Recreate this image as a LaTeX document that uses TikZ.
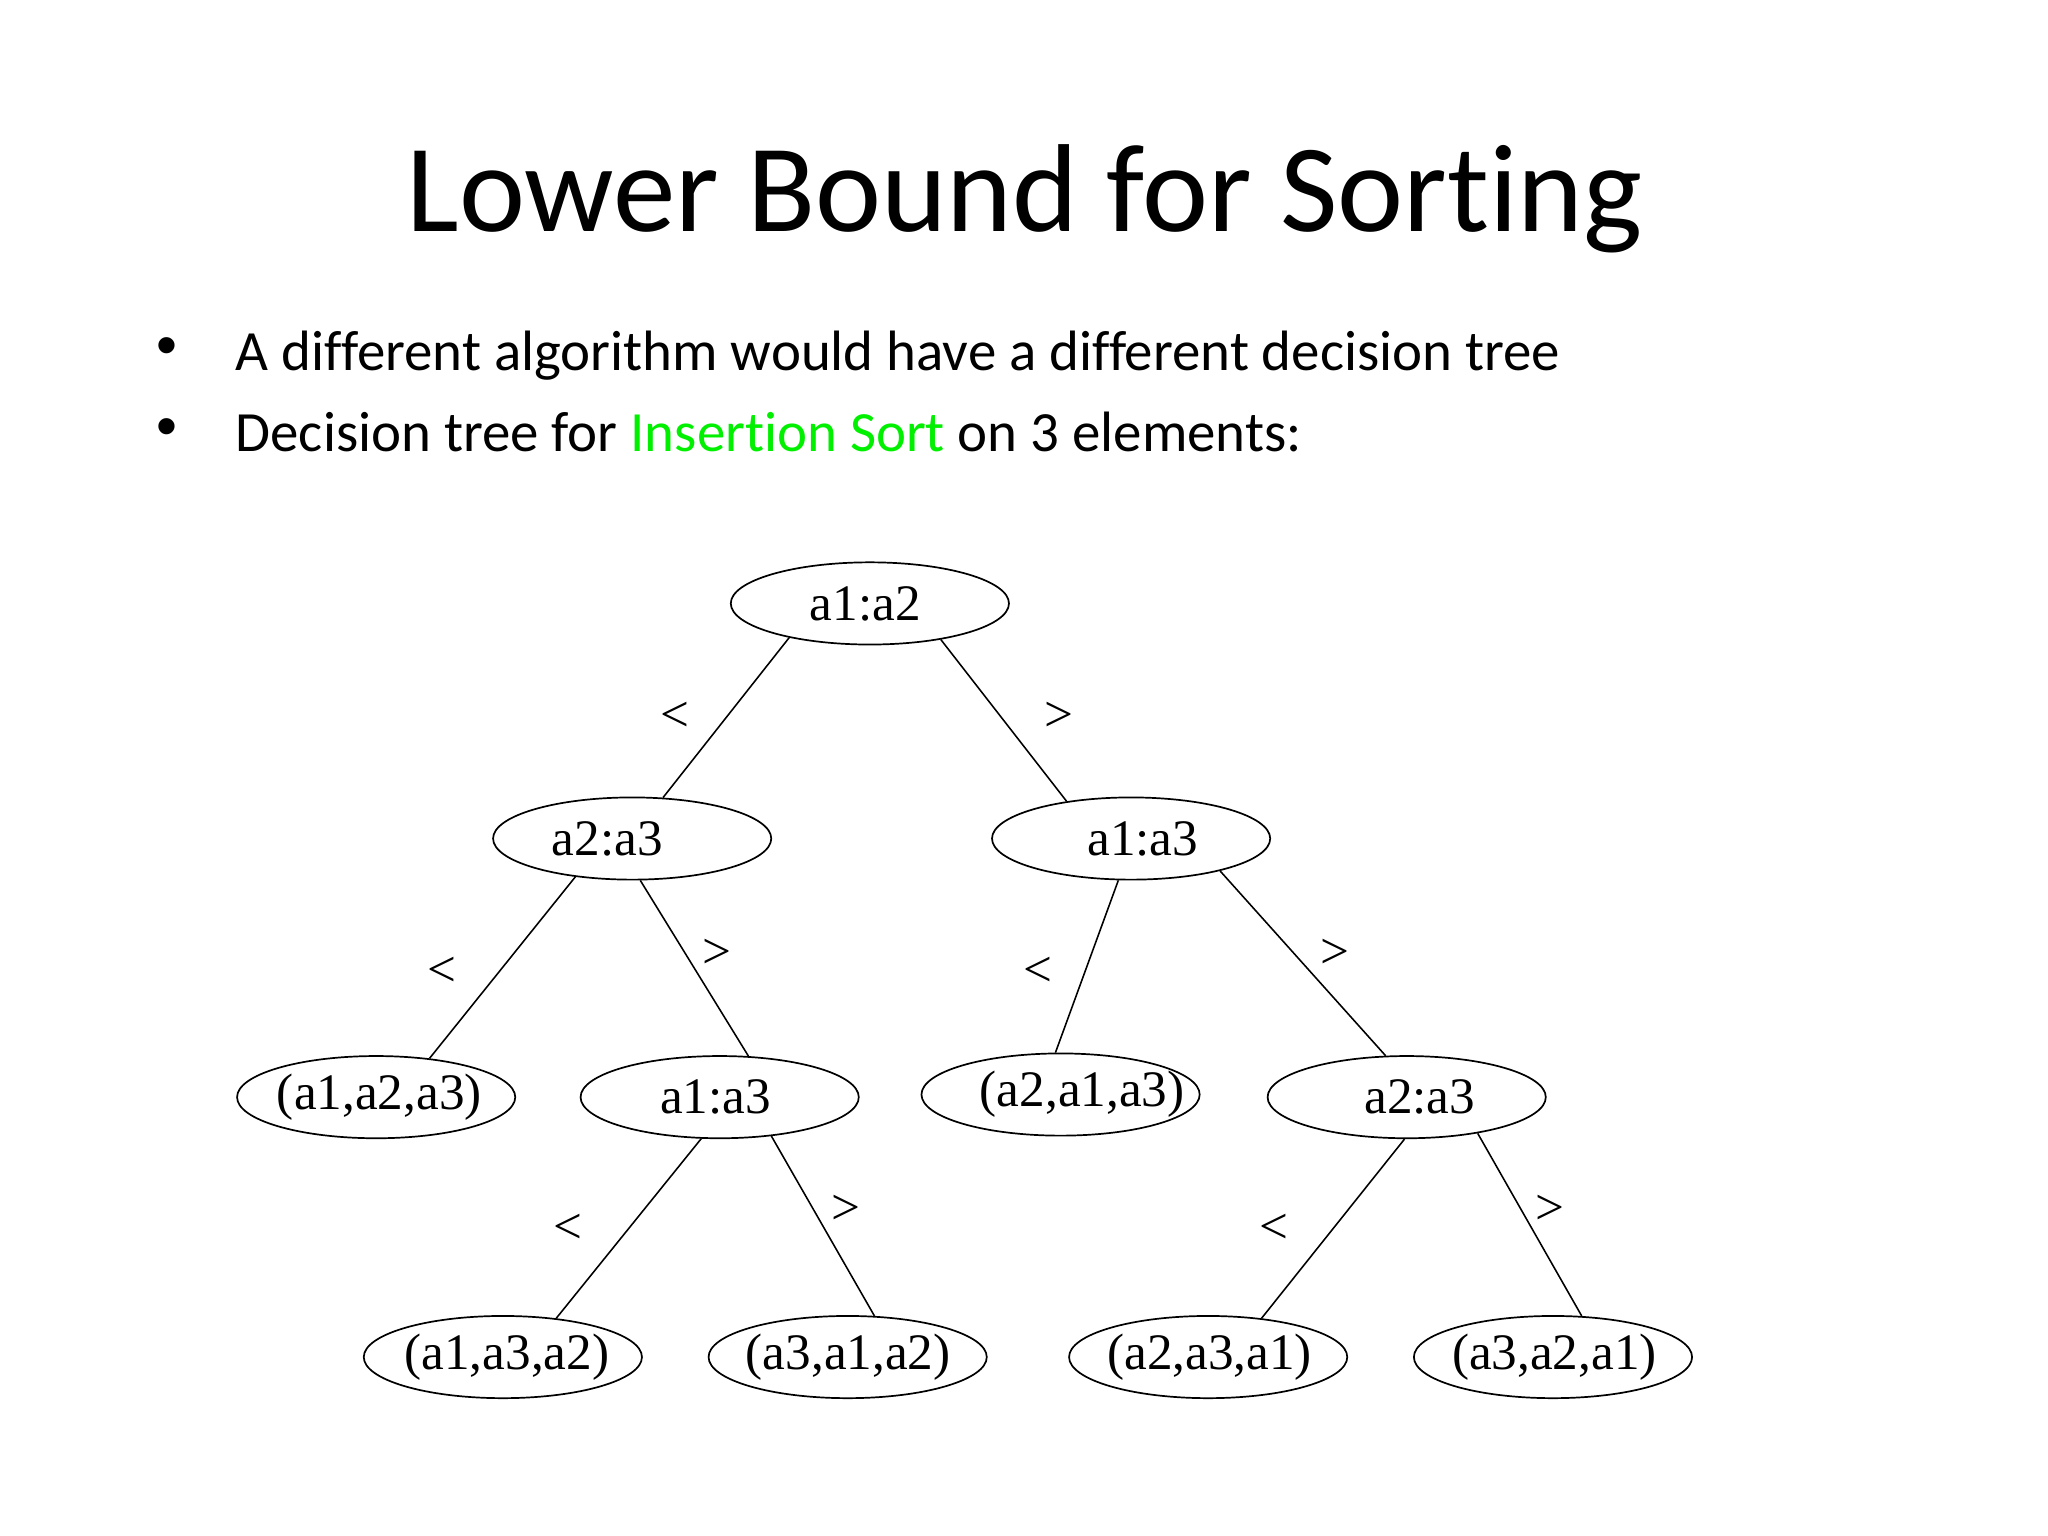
\documentclass[tikz,border=0pt]{standalone}
\usepackage{fontspec}
\setmainfont{Liberation Serif}
\newfontfamily\slidefont[Ligatures=NoCommon]{Carlito}
\newfontfamily\bulletfont{Liberation Sans}
\usetikzlibrary{positioning, shapes.geometric}
\definecolor{brightgreen}{RGB}{0,240,0}

% text of a tree node, moved sideways by #1 inside its ellipse
\newcommand{\offtext}[2]{\makebox[0pt]{\hspace*{#1}#2\hspace*{-#1}}}

\tikzset{
  dnode/.style={draw, ellipse, line width=0.6pt, minimum width=97.8pt,
    minimum height=28.9pt, inner xsep=-8pt, inner ysep=0pt, font=\fontsize{18}{18}\selectfont},
  lbl/.style={font=\fontsize{18}{18}\selectfont, inner sep=0pt},
  branch/.style={line width=0.55pt},
  bulletmark/.style={anchor=center, inner sep=0pt, font=\bulletfont\fontsize{21}{21}\selectfont},
  bullettext/.style={anchor=base west, inner sep=0pt, font=\slidefont\fontsize{20}{20}\selectfont}
}

\begin{document}
\begin{tikzpicture}[x=0.459184pt, y=-0.459184pt]
	\useasboundingbox[fill=white] (0, 0) rectangle (1568, 1176);
	% title and bullets
	\node[anchor=base, inner sep=0pt, font=\slidefont\fontsize{44}{44}\selectfont] (title) at (784.5, 177) {Lower Bound for Sorting};
	\node[bulletmark] (b1) at (127.6, 268.8) {\textbullet};
	\node[bulletmark] (b2) at (127.6, 330.8) {\textbullet};
	\node[bullettext] (t1) at (180, 283.3) {A different algorithm would have a different decision tree};
	\node[bullettext] (t2) at (180, 345.3) {Decision tree for \textcolor{brightgreen}{Insertion Sort} on 3 elements:};
	% decision tree nodes
	\foreach \name/\x/\y/\dx/\txt in {root/666/462/-1.6pt/a1:a2, l/484/642/-8.7pt/a2:a3, r/866/642/4.1pt/a1:a3,
			ll/288/840/1.1pt/{(a1,a2,a3)}, lr/551/840/-1.4pt/a1:a3, rl/812/838/7.6pt/{(a2,a1,a3)},
			rr/1077/840/4.6pt/a2:a3, lrl/385/1039/1.4pt/{(a1,a3,a2)}, lrr/649/1039/0.2pt/{(a3,a1,a2)},
			rrl/925/1039/0.5pt/{(a2,a3,a1)}, rrr/1189/1039/0.5pt/{(a3,a2,a1)}}
		\node[dnode] (\name) at (\x, \y) {\offtext{\dx}{\txt}};
	% branches
	\draw[branch] (root.-157.6) -- (l.53.3);
	\draw[branch] (root.-27.3) -- (r.150.3);
	\draw[branch] (l.-146.2) -- (ll.36.9);
	\draw[branch] (l.-79.2) -- (lr.55.8);
	\draw[branch] (r.-107.7) -- (rl.97.2);
	\draw[branch] (r.-20.5) -- (rr.117.2);
	\draw[branch] (lr.-114.2) -- (lrl.36.1);
	\draw[branch] (lr.-37.7) -- (lrr.57.1);
	\draw[branch] (rr.-93.6) -- (rrl.36.9);
	\draw[branch] (rr.-27.9) -- (rrr.55.8);
	% branch labels
	\foreach \name/\x/\y/\sym in {c1/517/549/<, c2/811/549/>, c3/338/744/<, c4/549/730/>, c5/795/744/<,
			c6/1022/730/>, c7/435/941/<, c8/648/926/>, c9/975/941/<, c10/1187/926/>}
		\node[lbl] (\name) at (\x, \y) {\sym};
\end{tikzpicture}
\end{document}
